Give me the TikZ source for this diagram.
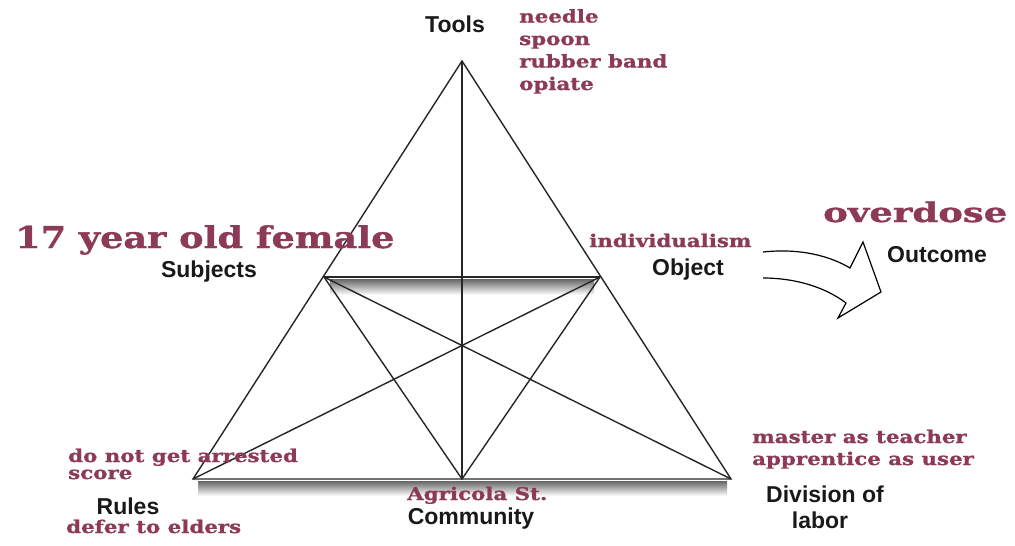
\documentclass[tikz,border=0pt]{standalone}
\usepackage{fontspec}
\setmainfont{Liberation Sans}
\newfontfamily\slab[FakeStretch=1.22,FakeBold=1.2]{DejaVu Serif}
\newfontfamily\slabx[FakeStretch=1.37,FakeBold=1.2]{DejaVu Serif}
\definecolor{maroon}{RGB}{140,58,88}
\begin{document}
\begin{tikzpicture}[x=1pt,y=-1pt,
  lab/.style={font=\bfseries\fontsize{23}{23}\selectfont, text=black!90, inner sep=0pt, anchor=base},
  red/.style={font=\slab\bfseries\fontsize{17.5}{22.5}\selectfont, text=maroon, inner sep=0pt, align=left, anchor=base west},
  edge/.style={draw=black!85, line width=1.4pt}]
\useasboundingbox (0,0) rectangle (1015,546);
% vertices
\coordinate (T) at (462,61);
\coordinate (S) at (324,277);
\coordinate (O) at (600,277);
\coordinate (R) at (193,479);
\coordinate (C) at (462,479);
\coordinate (D) at (731,479);
% shadows
\shade[top color=black!60, bottom color=white] (330,279) rectangle (594,295);
\shade[top color=black!60, bottom color=white] (198,481) rectangle (727,496);
% edges
\draw[edge] (T) -- (R) -- (D) -- cycle;
\draw[edge] (T) -- (C);
\draw[edge] (S) -- (O);
\draw[edge] (S) -- (C) -- (O);
\draw[edge] (S) -- (D);
\draw[edge] (O) -- (R);
% outcome arrow
\draw[line width=1.2pt, fill=white, line join=miter]
  (763,252) .. controls (800,248) and (830,256) .. (850,268)
  -- (863,242) -- (881,292) -- (838,318) -- (846,303)
  .. controls (825,287) and (795,278) .. (763,278);
% black labels
\node[lab] (tools) at (455,32) {Tools};
\node[lab] (subj) at (209,277) {Subjects};
\node[lab] (obj) at (688,275) {Object};
\node[lab] (outc) at (937,262) {Outcome};
\node[lab] (rules) at (128,514) {Rules};
\node[lab] (comm) at (471,524) {Community};
\node[lab] (div) at (825,502) {Division of};
\node[lab] (div2) at (820,528) {labor};
% maroon labels
\node[red] (tooltxt) at (519,90) {needle\\spoon\\rubber band\\opiate};
\node[red, font=\slab\bfseries\fontsize{30}{30}\selectfont] (girl) at (15,248) {17 year old female};
\node[red, font=\slabx\bfseries\fontsize{27}{27}\selectfont] (od) at (823,222) {overdose};
\node[red] (indiv) at (589,247) {individualism};
\node[red, font=\slab\bfseries\fontsize{17.5}{17}\selectfont] (rulestxt) at (68,479) {do not get arrested\\score};
\node[red] (defer) at (66,533) {defer to elders};
\node[red, font=\slab\bfseries\fontsize{17.5}{22}\selectfont] (divtxt) at (752,465) {master as teacher\\apprentice as user};
\node[red] (agri) at (407,500) {Agricola St.};
\end{tikzpicture}
\end{document}
